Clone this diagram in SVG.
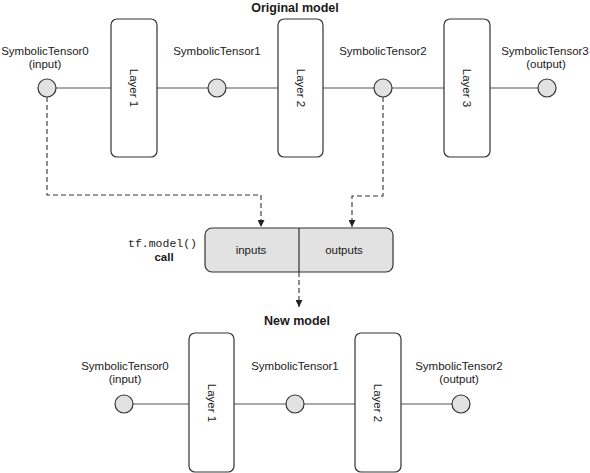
<svg xmlns="http://www.w3.org/2000/svg" width="590" height="473" viewBox="0 0 590 473">
<style>
text{font-family:"Liberation Sans",Arial,sans-serif;fill:#1a1a1a}
.lbl{font-size:11.5px;text-anchor:middle}
.ttl{font-size:12.5px;font-weight:bold;text-anchor:middle}
.layer{fill:#fff;stroke:#333;stroke-width:1.2}
.t{fill:#e2e2e2;stroke:#333;stroke-width:1.2}
.ln{stroke:#555;stroke-width:1.1;fill:none}
.ds{stroke:#333;stroke-width:1.1;fill:none;stroke-dasharray:5 3}
</style>
<defs>
<marker id="ah" viewBox="0 0 10 10" refX="10" refY="5" markerWidth="7" markerHeight="7" markerUnits="userSpaceOnUse" orient="auto">
<path d="M0,0 L10,5 L0,10 z" fill="#222"/>
</marker>
</defs>
<text class="ttl" x="295" y="12">Original model</text>
<g id="connectors">
<line class="ln" x1="56" y1="88" x2="111" y2="88"/>
<line class="ln" x1="157" y1="88" x2="208" y2="88"/>
<line class="ln" x1="226" y1="88" x2="278" y2="88"/>
<line class="ln" x1="323" y1="88" x2="374" y2="88"/>
<line class="ln" x1="392" y1="88" x2="444" y2="88"/>
<line class="ln" x1="490" y1="88" x2="538" y2="88"/>
<polyline class="ds" points="47,97 47,195 261,195 261,227" marker-end="url(#ah)"/>
<polyline class="ds" points="383,97 383,196 352,196 352,227" marker-end="url(#ah)"/>
<line class="ds" x1="299" y1="272" x2="299" y2="307" marker-end="url(#ah)"/>
<line class="ln" x1="133" y1="404" x2="189" y2="404"/>
<line class="ln" x1="234" y1="404" x2="286" y2="404"/>
<line class="ln" x1="304" y1="404" x2="355" y2="404"/>
<line class="ln" x1="401" y1="404" x2="452" y2="404"/>
</g>
<g id="t0"><text class="lbl" x="45" y="55">SymbolicTensor0</text><text class="lbl" x="45" y="68">(input)</text><circle class="t" cx="47" cy="88" r="9"/></g>
<g id="L1"><rect class="layer" x="111" y="19" width="46" height="138" rx="6"/><text class="lbl" transform="translate(134,88) rotate(90)" y="4">Layer 1</text></g>
<g id="t1"><text class="lbl" x="217" y="55">SymbolicTensor1</text><circle class="t" cx="217" cy="88" r="9"/></g>
<g id="L2"><rect class="layer" x="278" y="19" width="45" height="138" rx="6"/><text class="lbl" transform="translate(300.5,88) rotate(90)" y="4">Layer 2</text></g>
<g id="t2"><text class="lbl" x="383" y="55">SymbolicTensor2</text><circle class="t" cx="383" cy="88" r="9"/></g>
<g id="L3"><rect class="layer" x="444" y="19" width="46" height="138" rx="6"/><text class="lbl" transform="translate(467,88) rotate(90)" y="4">Layer 3</text></g>
<g id="t3"><text class="lbl" x="545" y="55">SymbolicTensor3</text><text class="lbl" x="546" y="68">(output)</text><circle class="t" cx="547" cy="88" r="9"/></g>
<g id="call">
<text x="197" y="247" style="font-family:'Liberation Mono','Courier New',monospace;font-size:11.5px;text-anchor:end">tf.model()</text>
<text x="164" y="261" style="font-size:11.5px;font-weight:bold;text-anchor:middle">call</text>
<rect class="t" x="205" y="228" width="188" height="44" rx="7"/>
<line stroke="#333" stroke-width="1.2" x1="299" y1="228" x2="299" y2="272"/>
<text class="lbl" x="251" y="254">inputs</text>
<text class="lbl" x="344" y="254">outputs</text>
</g>
<text class="ttl" x="297" y="325">New model</text>
<g id="n0"><text class="lbl" x="125" y="370">SymbolicTensor0</text><text class="lbl" x="125" y="383">(input)</text><circle class="t" cx="124" cy="404" r="9"/></g>
<g id="nL1"><rect class="layer" x="189" y="333" width="45" height="139" rx="6"/><text class="lbl" transform="translate(211.5,403) rotate(90)" y="4">Layer 1</text></g>
<g id="n1"><text class="lbl" x="295" y="370">SymbolicTensor1</text><circle class="t" cx="295" cy="404" r="9"/></g>
<g id="nL2"><rect class="layer" x="355" y="333" width="46" height="139" rx="6"/><text class="lbl" transform="translate(378,403) rotate(90)" y="4">Layer 2</text></g>
<g id="n2"><text class="lbl" x="459" y="370">SymbolicTensor2</text><text class="lbl" x="459" y="383">(output)</text><circle class="t" cx="461" cy="404" r="9"/></g>
</svg>
